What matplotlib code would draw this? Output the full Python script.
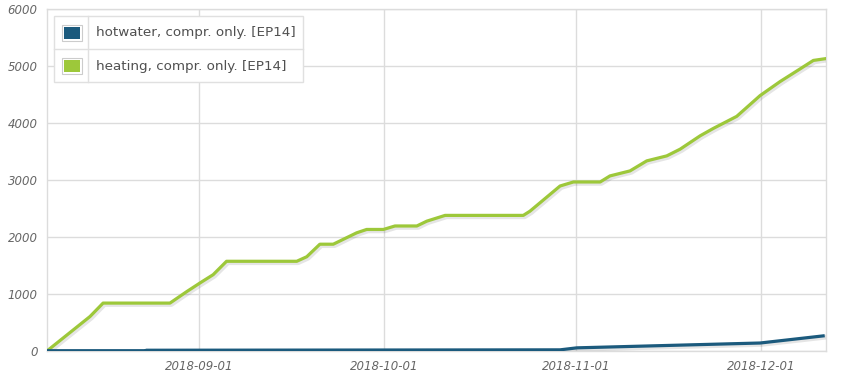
import matplotlib
matplotlib.use("Agg")
import matplotlib.pyplot as plt
import matplotlib.dates as mdates
import matplotlib.patheffects as pe
import pandas as pd
from matplotlib.patches import Rectangle
from matplotlib.lines import Line2D


SERIES_LABELS = ["hotwater, compr. only. [EP14]", "heating, compr. only. [EP14]"]
SERIES_COLORS = ["#1b5a7d", "#9dc83a"]

HEATING_DATES = [
    "2018-08-07 09:00", "2018-08-14 07:00", "2018-08-16 10:00", "2018-08-27 06:00",
    "2018-08-30 00:00", "2018-09-01 03:00", "2018-09-03 06:00", "2018-09-05 10:00",
    "2018-09-16 19:00", "2018-09-18 10:00", "2018-09-20 13:00", "2018-09-22 17:00",
    "2018-09-26 12:00", "2018-09-28 03:00", "2018-09-30 20:00", "2018-10-02 17:00",
    "2018-10-06 06:00", "2018-10-07 21:00", "2018-10-10 20:00", "2018-10-23 12:00",
    "2018-10-24 14:00", "2018-10-29 11:00", "2018-10-31 15:00", "2018-11-04 23:00",
    "2018-11-06 13:00", "2018-11-09 19:00", "2018-11-12 12:00", "2018-11-15 18:00",
    "2018-11-17 22:00", "2018-11-21 04:00", "2018-11-23 07:00", "2018-11-27 02:00",
    "2018-11-30 21:00", "2018-12-04 03:00", "2018-12-07 09:00", "2018-12-09 12:00",
    "2018-12-11 10:00",
]
HEATING_VALUES = [
    0, 600, 836, 836,
    1040, 1190, 1335, 1570,
    1570, 1650, 1870, 1870,
    2070, 2129, 2129, 2190,
    2190, 2275, 2376, 2376,
    2450, 2892, 2963, 2963,
    3069, 3157, 3333, 3421,
    3539, 3774, 3903, 4115,
    4480, 4727, 4950, 5097,
    5127,
]

HOTWATER_DATES = [
    "2018-08-07 09:00", "2018-08-23 09:00", "2018-08-23 10:00", "2018-10-29 11:00",
    "2018-11-01 04:00", "2018-11-30 21:00", "2018-12-11 02:00",
]
HOTWATER_VALUES = [0, 0, 8, 15, 50, 135, 260]

X_START = "2018-08-07 09:00"
X_END = "2018-12-11 12:00"
Y_TICKS = [0, 1000, 2000, 3000, 4000, 5000, 6000]
X_TICKS = ["2018-09-01", "2018-10-01", "2018-11-01", "2018-12-01"]

GRID_COLOR = "#dcdcdc"
TEXT_COLOR = "#666666"

fig = plt.figure(figsize=(8.5, 3.75), dpi=100)
ax = fig.add_axes([47.3 / 850, 1 - 350.7 / 375, (825.7 - 47.3) / 850, (350.7 - 9) / 375])

shadow = [pe.SimpleLineShadow(offset=(1, -1), shadow_color="#000000", alpha=0.10, linewidth=3.5), pe.Normal()]

series = [
    (pd.to_datetime(HOTWATER_DATES), HOTWATER_VALUES),
    (pd.to_datetime(HEATING_DATES), HEATING_VALUES),
]
# heating first so the hotwater line sits on top near zero
for (dates, values), color, z in zip(series, SERIES_COLORS, [4, 3]):
    ax.plot(dates, values, color=color, linewidth=2.3, solid_joinstyle="round",
            path_effects=shadow, zorder=z)

ax.set_xlim(pd.Timestamp(X_START), pd.Timestamp(X_END))
ax.set_ylim(Y_TICKS[0], Y_TICKS[-1])
ax.set_yticks(Y_TICKS)
ax.set_xticks(pd.to_datetime(X_TICKS))
ax.xaxis.set_major_formatter(mdates.DateFormatter("%Y-%m-%d"))

ax.grid(True, color=GRID_COLOR, linewidth=1)
ax.set_axisbelow(True)
for spine in ax.spines.values():
    spine.set_color(GRID_COLOR)
    spine.set_linewidth(1)
ax.tick_params(length=0, pad=7, labelsize=8.5, labelcolor=TEXT_COLOR)
for label in ax.get_xticklabels() + ax.get_yticklabels():
    label.set_fontstyle("italic")

# table-like legend in the upper left
def px(x, y):
    return x / 850, 1 - y / 375

legend_left, legend_right, legend_top, legend_bottom = 54, 303, 16, 82
row_split, col_split = 49.3, 88.3
border = "#e0e0e0"
fig.add_artist(Rectangle(px(legend_left, legend_bottom), (legend_right - legend_left) / 850,
                         (legend_bottom - legend_top) / 375, transform=fig.transFigure,
                         facecolor="white", edgecolor=border, linewidth=1, zorder=5))
fig.add_artist(Line2D([legend_left / 850, legend_right / 850], [px(0, row_split)[1]] * 2,
                      transform=fig.transFigure, color=border, linewidth=1, zorder=6))
fig.add_artist(Line2D([col_split / 850] * 2, [px(0, legend_top)[1], px(0, legend_bottom)[1]],
                      transform=fig.transFigure, color=border, linewidth=1, zorder=6))
row_centers = [32.7, 66.3]
for label, color, yc in zip(SERIES_LABELS, SERIES_COLORS, row_centers):
    fig.add_artist(Rectangle(px(61.7, yc + 8), 20.6 / 850, 16 / 375, transform=fig.transFigure,
                             facecolor="white", edgecolor="#cccccc", linewidth=0.8, zorder=6))
    fig.add_artist(Rectangle(px(63.7, yc + 6), 16.6 / 850, 12 / 375, transform=fig.transFigure,
                             facecolor=color, edgecolor="none", zorder=7))
    fig.text(96 / 850, 1 - yc / 375, label, fontsize=9.7, color="#505050",
             va="center", ha="left", zorder=7)

fig.savefig("out.png", dpi=100)
